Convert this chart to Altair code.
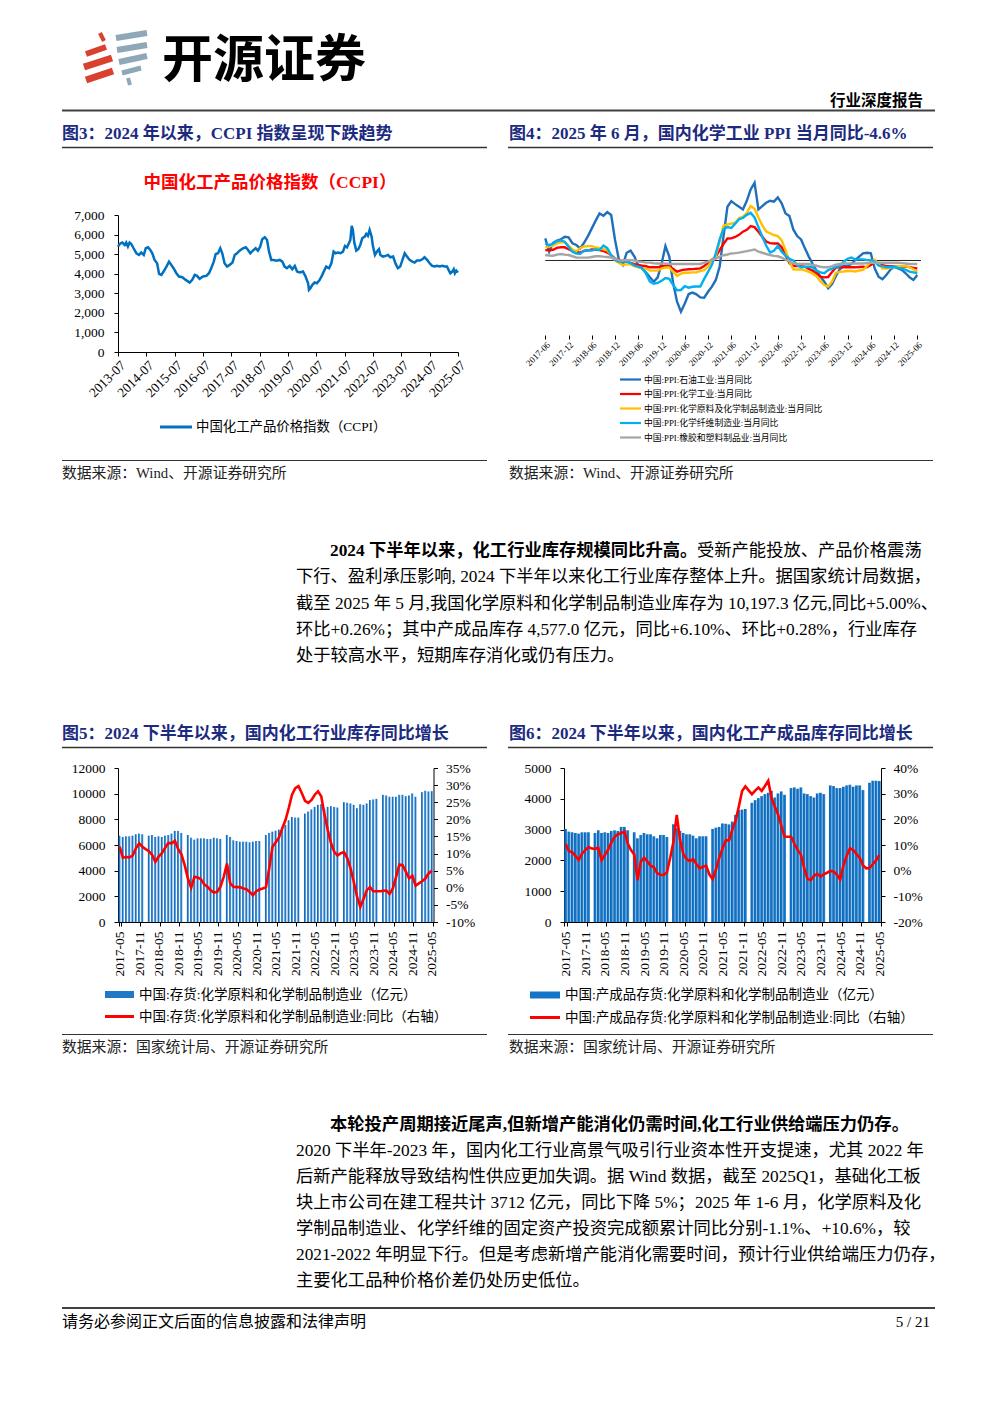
import altair as alt
import pandas as pd

W, H, M = 976, 1387, 8
SERIF = "Liberation Serif"
CJK = "Noto Sans CJK SC"
MIX = "'Liberation Serif', 'Noto Sans CJK SC'"
NAVY = "#1C2B7F"

# ---------------- data ----------------
ccpi_year = [2013.50, 2013.56, 2013.65, 2013.74, 2013.79, 2013.85, 2013.91, 2013.97, 2014.05, 2014.15,
             2014.24, 2014.32, 2014.41, 2014.48, 2014.56, 2014.64, 2014.71, 2014.79, 2014.88, 2014.95,
             2015.03, 2015.11, 2015.21, 2015.30, 2015.38, 2015.46, 2015.56, 2015.65, 2015.77, 2015.89,
             2016.03, 2016.12, 2016.21, 2016.29, 2016.38, 2016.50, 2016.62, 2016.71, 2016.79, 2016.88,
             2016.95, 2017.03, 2017.11, 2017.18, 2017.26, 2017.35, 2017.44, 2017.54, 2017.62, 2017.70,
             2017.79, 2017.91, 2018.01, 2018.09, 2018.17, 2018.26, 2018.36, 2018.44, 2018.52, 2018.59,
             2018.68, 2018.76, 2018.83, 2018.91, 2018.99, 2019.09, 2019.21, 2019.30, 2019.38, 2019.46,
             2019.56, 2019.65, 2019.74, 2019.82, 2019.91, 2020.03, 2020.12, 2020.21, 2020.24, 2020.29,
             2020.36, 2020.44, 2020.52, 2020.62, 2020.71, 2020.79, 2020.85, 2020.95, 2021.03, 2021.11,
             2021.18, 2021.26, 2021.35, 2021.44, 2021.51, 2021.58, 2021.65, 2021.70, 2021.75, 2021.79,
             2021.84, 2021.91, 2021.98, 2022.05, 2022.12, 2022.21, 2022.26, 2022.32, 2022.38, 2022.45,
             2022.50, 2022.57, 2022.64, 2022.71, 2022.76, 2022.85, 2022.95, 2023.03, 2023.11, 2023.21,
             2023.30, 2023.38, 2023.46, 2023.54, 2023.62, 2023.70, 2023.79, 2023.89, 2023.97, 2024.05,
             2024.15, 2024.24, 2024.32, 2024.41, 2024.50, 2024.59, 2024.68, 2024.76, 2024.85, 2024.95,
             2025.03, 2025.11, 2025.18, 2025.23, 2025.30, 2025.35, 2025.39, 2025.44, 2025.50]
ccpi_value = [5385, 5520, 5590, 5470, 5590, 5385, 5590, 5520, 5300, 5045,
              4960, 5080, 4960, 5300, 5350, 5215, 5045, 4705, 4535, 3990,
              3940, 4110, 4365, 4620, 4450, 4280, 4025, 3855, 3820, 3685,
              3550, 3685, 3940, 3890, 3740, 3855, 3890, 4025, 4280, 4620,
              5010, 5045, 5300, 5045, 4535, 4365, 4450, 4570, 4960, 5045,
              5180, 5300, 5350, 5215, 5045, 5180, 5300, 5180, 5385, 5760,
              5860, 5725, 5130, 4705, 4705, 4670, 4705, 4620, 4365, 4280,
              4400, 4230, 4400, 4110, 4060, 4110, 3855, 3515, 3175, 3260,
              3430, 3550, 3515, 3685, 3940, 4195, 4365, 4280, 4535, 5130,
              5045, 5080, 5045, 5130, 5420, 5350, 5555, 5725, 6440, 6235,
              5590, 5180, 5250, 5470, 5810, 5895, 6030, 5930, 6235, 5895,
              5385, 4960, 5130, 5250, 4960, 4875, 4910, 4960, 4840, 4875,
              4500, 4280, 4365, 4705, 5045, 4875, 4705, 4620, 4570, 4670,
              4670, 4740, 4840, 4705, 4535, 4400, 4365, 4400, 4365, 4400,
              4365, 4365, 4160, 4025, 4110, 4230, 4025, 4160, 4060]
ccpi_ticks = [2013.5 + k for k in range(13)]

months4 = pd.date_range("2017-06-01", periods=97, freq="MS").strftime("%Y-%m").tolist()
ppi_names = ["中国:PPI:石油工业:当月同比", "中国:PPI:化学工业:当月同比",
             "中国:PPI:化学原料及化学制品制造业:当月同比", "中国:PPI:化学纤维制造业:当月同比",
             "中国:PPI:橡胶和塑料制品业:当月同比"]
ppi_colors = ["#1F6FBA", "#FF0000", "#FFC000", "#00B0F0", "#A5A5A5"]
ppi_petro = [12.6, 5.0, 10.1, 11.3, 12.0, 13.5, 13.2, 9.8, 8.8, 6.9, 10.1, 13.9, 18.3, 22.7, 26.8, 25.5,
             27.6, 25.9, 11.7, 0.3, -2.6, 4.4, 5.6, 2.2, -3.1, -4.6, -6.9, -9.6, -12.1, -9.6, -2.0, 8.2,
             2.2, -13.0, -23.5, -29.2, -24.5, -19.1, -18.3, -19.3, -21.0, -21.2, -17.8, -14.9, -11.1,
             -3.5, 13.9, 30.6, 33.8, 32.1, 30.6, 29.1, 34.0, 40.5, 44.3, 29.1, 31.0, 32.9, 34.0, 33.5,
             35.9, 32.5, 26.8, 25.3, 17.7, 13.9, 12.0, 6.9, 2.2, -2.0, -5.8, -9.2, -12.1, -15.8, -13.4,
             -8.8, -5.0, -3.1, -3.1, -2.0, 0.3, 2.2, 4.1, 4.4, 4.1, -4.5, -9.2, -10.7, -8.3, -5.4, -3.5,
             -4.5, -5.4, -7.3, -9.6, -11.1, -8.3]
ppi_chem = [5.9, 5.8, 6.1, 7.2, 7.5, 7.5, 6.4, 5.4, 5.0, 4.5, 5.4, 5.8, 6.3, 6.1, 5.9, 5.4, 4.5, 3.0,
            1.0, 0.3, -0.6, -0.6, -1.4, -2.1, -2.6, -3.0, -3.3, -3.9, -3.9, -3.9, -3.3, -3.1, -3.2,
            -4.8, -6.4, -5.6, -5.2, -5.0, -4.9, -4.7, -4.5, -3.2, -1.3, 0.5, 2.2, 5.9, 9.5, 12.5, 12.6,
            13.4, 14.6, 16.4, 17.5, 19.6, 19.0, 16.3, 13.5, 10.8, 9.9, 9.7, 9.7, 7.5, 3.0, -1.5, -3.0,
            -3.2, -3.2, -3.6, -4.8, -5.8, -7.3, -9.2, -9.6, -9.4, -6.5, -4.0, -3.9, -3.9, -3.9, -3.9,
            -3.9, -3.7, -3.5, -3.9, -2.6, -1.0, -1.8, -2.6, -3.2, -3.2, -3.2, -3.2, -3.4, -3.5, -3.8,
            -4.2, -4.6]
ppi_raw = [7.5, 8.0, 8.5, 9.8, 10.3, 10.5, 8.5, 6.2, 5.2, 7.0, 8.0, 8.2, 8.2, 7.5, 7.0, 6.4, 5.7, 3.0,
           0.0, -1.4, -2.6, -2.2, -2.2, -3.2, -3.9, -4.4, -4.6, -5.8, -5.8, -5.8, -4.6, -4.0, -4.0,
           -6.5, -8.8, -7.5, -7.0, -7.0, -6.8, -6.7, -6.1, -5.5, -3.5, -0.3, 2.5, 11.0, 19.8, 20.5,
           21.0, 21.5, 24.0, 25.0, 27.0, 31.0, 29.5, 24.5, 20.0, 16.5, 15.5, 14.5, 13.9, 11.5, 6.0,
           -0.5, -5.0, -5.2, -5.0, -5.6, -6.5, -7.5, -9.0, -11.8, -14.0, -14.9, -12.0, -7.0, -6.5,
           -6.3, -6.0, -5.9, -6.3, -5.7, -5.3, -3.2, -0.5, 0.3, -2.0, -4.6, -4.6, -4.2, -3.5, -3.2,
           -3.2, -3.2, -3.9, -5.0, -6.4]
ppi_fiber = [9.7, 8.7, 9.6, 11.0, 11.4, 10.7, 7.8, 5.0, 4.0, 3.8, 5.6, 5.8, 5.6, 6.3, 6.0, 8.5, 7.0,
             3.0, 0.3, -0.6, -0.6, -0.6, -1.5, -3.0, -3.5, -4.4, -7.5, -12.0, -13.2, -12.8, -11.5,
             -10.0, -10.5, -14.0, -17.0, -16.8, -14.6, -15.5, -15.0, -14.8, -14.8, -10.5, -6.5, -2.5,
             4.0, 12.0, 17.8, 19.0, 18.5, 21.0, 23.5, 24.2, 26.0, 27.2, 24.5, 19.0, 13.5, 8.5, 4.6,
             5.5, 8.2, 5.0, 2.7, 1.0, 0.0, -2.6, -3.9, -3.6, -3.6, -3.9, -5.8, -6.8, -7.3, -5.5, -4.6,
             -3.6, -3.2, -0.7, 1.0, 1.7, 0.5, 0.6, 0.6, 0.3, 0.2, -0.6, -2.9, -3.2, -3.9, -3.7, -3.6,
             -4.2, -4.5, -5.4, -6.4, -6.8, -7.3]
ppi_rubber = [3.1, 2.8, 2.7, 3.3, 3.7, 3.3, 3.1, 2.4, 1.7, 1.6, 1.6, 1.6, 2.0, 2.4, 2.5, 2.2, 2.0, 1.6,
              1.0, 0.2, 0.0, 0.3, 0.2, 0.0, -0.6, -0.8, -1.2, -1.2, -1.6, -1.7, -1.7, -1.8, -2.0, -2.0,
              -2.0, -2.0, -2.0, -2.0, -2.0, -2.0, -2.0, -1.3, -0.6, 0.2, 1.0, 2.2, 3.0, 3.4, 4.0, 4.2,
              4.5, 4.9, 5.3, 5.8, 6.3, 5.0, 4.4, 3.7, 3.1, 2.6, 2.4, 1.6, 0.4, -0.6, -1.6, -2.0, -2.0,
              -2.0, -2.0, -2.6, -3.0, -3.6, -3.9, -3.9, -3.2, -2.4, -2.0, -1.7, -1.7, -1.7, -1.7, -1.7,
              -1.7, -1.5, -1.3, -1.3, -1.3, -1.3, -1.3, -1.3, -1.3, -1.3, -1.5, -1.7, -2.0, -2.0, -2.0]

months5 = pd.date_range("2017-05-01", periods=97, freq="MS").strftime("%Y-%m").tolist()
N = None
inv5 = [6730, 6630, 6680, 6680, 6730, 6840, 6890, 6840, N,
        6730, 6780, 6630, 6680, 6630, 6730, 6780, 6890, 7100, 7100, 6940, N,
        6780, 6570, 6420, 6520, 6520, 6520, 6470, 6470, 6570, 6520, 6470, N,
        6780, 6630, 6370, 6310, 6260, 6260, 6260, 6210, 6260, 6310, 6310, N,
        6780, 6940, 7040, 7120, 7200, 7300, 7570, 7930, 8190, 8140, 8140, N,
        8450, 8610, 8770, 8970, 9130, 9180, 8820, 8970, 9030, 8970, 8920, N,
        9340, 9290, 9240, 9130, 8870, 9180, 9130, 9240, 9500, 9550, 9600, N,
        9910, 9860, 9760, 9760, 9760, 9910, 9910, 9810, 9860, 10020, 9760, N,
        10120, 10230, 10170, 10197]
yoy5 = [12.0, 8.8, 9.0, 8.9, 9.4, 11.5, 13.0, 12.0, 11.3, 10.7, 9.6, 7.6, 9.1, 10.1, 11.7, 13.1, 13.0,
        13.7, 11.3, 9.8, 6.6, 2.7, 0.0, 3.2, 3.0, 2.5, 1.0, 0.3, -0.7, -1.4, -1.2, 0.3, 3.2, 7.1, 1.3,
        0.3, 0.2, 0.2, -0.2, -0.4, -1.2, -2.2, -1.0, -0.5, -0.2, 0.2, 5.7, 12.0, 13.3, 14.7, 17.4,
        19.8, 23.3, 27.2, 29.1, 29.7, 27.7, 25.4, 24.8, 25.7, 27.2, 28.2, 26.7, 21.3, 16.9, 13.0,
        10.5, 9.4, 10.1, 10.4, 8.6, 5.7, 1.7, -2.7, -5.6, -3.2, -0.7, 0.2, -1.0, -1.0, -1.0, -0.9,
        -0.8, -1.8, -0.2, 3.2, 6.8, 6.6, 4.7, 2.7, 3.5, 0.6, 1.3, 1.9, 2.7, 4.2, 5.0]
inv6 = [3022, 2935, 2913, 2891, 2870, 2913, 2913, 2913, N,
        2891, 2978, 2891, 2913, 2891, 2957, 2978, 2957, 3087, 3087, 2978, N,
        2913, 2717, 2826, 2891, 2848, 2848, 2783, 2717, 2826, 2826, 2761, N,
        3174, 3043, 2957, 2891, 2848, 2848, 2804, 2717, 2783, 2783, 2783, N,
        3022, 3065, 3087, 3200, 3190, 3170, 3260, 3478, 3640, 3650, 3670, N,
        3870, 3957, 4022, 4087, 4152, 4196, 4261, 4043, 4174, 4239, 4130, N,
        4348, 4370, 4326, 4370, 4174, 4152, 4087, 4043, 4174, 4196, 4152, N,
        4435, 4413, 4348, 4348, 4391, 4435, 4457, 4391, 4435, 4435, 4283, N,
        4522, 4587, 4587, 4577]
yoy6 = [10.5, 7.6, 7.2, 5.8, 4.1, 6.6, 8.0, 9.2, 8.6, 8.5, 8.9, 4.1, 6.1, 8.2, 11.0, 13.2, 14.2, 14.6,
        15.2, 10.6, 8.0, 6.3, -3.7, 3.5, 5.0, 3.6, 1.9, 1.3, -1.0, -1.6, -1.7, -0.6, 5.0, 11.3, 21.7,
        12.0, 6.5, 4.5, 3.7, 4.5, 2.6, 0.9, 1.5, 1.9, -1.5, -3.3, 0.5, 5.0, 8.6, 11.8, 11.8, 16.0,
        19.5, 25.0, 31.0, 32.8, 31.3, 29.8, 31.2, 32.4, 31.1, 33.0, 35.0, 28.2, 25.0, 21.9, 17.5,
        13.3, 13.2, 13.2, 10.5, 8.0, 6.3, 1.0, -3.2, -3.7, -2.0, -1.2, -2.3, -1.4, -0.8, -0.1, -0.3,
        -1.5, -3.5, 2.0, 5.8, 8.7, 8.0, 6.5, 5.0, 2.0, 0.9, 1.0, 2.5, 4.0, 6.1]

para1 = ["下行、盈利承压影响, 2024 下半年以来化工行业库存整体上升。据国家统计局数据，",
         "截至 2025 年 5 月,我国化学原料和化学制品制造业库存为 10,197.3 亿元,同比+5.00%、",
         "环比+0.26%；其中产成品库存 4,577.0 亿元，同比+6.10%、环比+0.28%，行业库存",
         "处于较高水平，短期库存消化或仍有压力。"]
para2 = ["2020 下半年-2023 年，国内化工行业高景气吸引行业资本性开支提速，尤其 2022 年",
         "后新产能释放导致结构性供应更加失调。据 Wind 数据，截至 2025Q1，基础化工板",
         "块上市公司在建工程共计 3712 亿元，同比下降 5%；2025 年 1-6 月，化学原料及化",
         "学制品制造业、化学纤维的固定资产投资完成额累计同比分别-1.1%、+10.6%，较",
         "2021-2022 年明显下行。但是考虑新增产能消化需要时间，预计行业供给端压力仍存，",
         "主要化工品种价格价差仍处历史低位。"]

PS = 17.3  # paragraph font size
TS = 17.0  # figure title font size


# ---------------- helpers ----------------
def T(s, x, y, size=14, color="#000", bold=False, align="left", font=MIX):
    return alt.Chart(pd.DataFrame({"t": [s]})).mark_text(
        align=align, baseline="middle", fontSize=size, color=color,
        fontWeight="bold" if bold else "normal", font=font
    ).encode(x=alt.value(x - M), y=alt.value(y - M), text="t:N")


def R(x1, x2, y, color="#333333", w=1.5):
    return alt.Chart(pd.DataFrame({"t": [0]})).mark_rule(color=color, strokeWidth=w).encode(
        x=alt.value(x1 - M), x2=alt.value(x2 - M), y=alt.value(y - M))


def S(x1, y1, x2, y2, color, w):
    return alt.Chart(pd.DataFrame({"t": [0]})).mark_rule(color=color, strokeWidth=w, strokeCap="butt").encode(
        x=alt.value(x1 - M), y=alt.value(y1 - M), x2=alt.value(x2 - M), y2=alt.value(y2 - M))


def BOX(x1, x2, y1, y2, color):
    return alt.Chart(pd.DataFrame({"t": [0]})).mark_rect(color=color).encode(
        x=alt.value(x1 - M), x2=alt.value(x2 - M), y=alt.value(y1 - M), y2=alt.value(y2 - M))


def ax(orient, pos, **kw):
    if orient == "left":
        off = -(pos - M)
    elif orient == "right":
        off = (pos - M) - W
    else:
        off = (pos - M) - H
    base = dict(orient=orient, offset=off, grid=False, title=None, domainColor="#000",
                tickColor="#000", labelColor="#000", labelFont=SERIF, labelOverlap=False)
    base.update(kw)
    return alt.Axis(**base)


layers = []

# ---------------- header ----------------
layers += [
    S(100, 33, 104, 41, "#D9412E", 4),
    S(86, 54, 106, 47, "#D9412E", 6),
    S(84, 67, 112, 58, "#D9412E", 7),
    S(86, 80, 113, 71, "#D9412E", 7),
    S(116, 38, 147, 33, "#8FA8B8", 6),
    S(117, 50, 147, 45, "#8FA8B8", 6),
    S(119, 62, 147, 56, "#8FA8B8", 6),
    S(122, 73, 141, 68, "#8FA8B8", 5),
    S(128, 78, 130, 85, "#8FA8B8", 4),
    T("开源证券", 162, 62, size=51, bold=True, font=CJK),
    T("行业深度报告", 923, 101, size=15.5, bold=True, align="right", font=CJK),
    R(62, 935, 110.5, "#404040", 2),
]

# ---------------- figure titles & frames ----------------
layers += [
    T("图3：2024 年以来，CCPI 指数呈现下跌趋势", 62, 134, size=TS, color=NAVY, bold=True),
    T("图4：2025 年 6 月，国内化学工业 PPI 当月同比-4.6%", 509, 134, size=TS, color=NAVY, bold=True),
    R(62, 487, 147.5), R(508, 933, 147.5),
    R(62, 487, 460.5, "#333333", 1.2), R(508, 933, 460.5, "#333333", 1.2),
    T("数据来源：Wind、开源证券研究所", 62, 473.5, size=14.8, color="#222222"),
    T("数据来源：Wind、开源证券研究所", 509, 473.5, size=14.8, color="#222222"),
    T("图5：2024 下半年以来，国内化工行业库存同比增长", 62, 734, size=TS, color=NAVY, bold=True),
    T("图6：2024 下半年以来，国内化工产成品库存同比增长", 509, 734, size=TS, color=NAVY, bold=True),
    R(62, 487, 747.5), R(508, 933, 747.5),
    R(62, 487, 1034.5, "#333333", 1.2), R(508, 933, 1034.5, "#333333", 1.2),
    T("数据来源：国家统计局、开源证券研究所", 62, 1047.5, size=14.8, color="#222222"),
    T("数据来源：国家统计局、开源证券研究所", 509, 1047.5, size=14.8, color="#222222"),
]

# ---------------- Fig 3: CCPI ----------------
df3 = pd.DataFrame({"yr": ccpi_year, "ccpi": ccpi_value})
fig3 = alt.Chart(df3).mark_line(color="#0070C0", strokeWidth=2.5).encode(
    x=alt.X("yr:Q", scale=alt.Scale(domain=[2013.5, 2025.5], range=[118 - M, 458 - M], nice=False, zero=False),
            axis=ax("bottom", 352, values=ccpi_ticks, labelExpr="floor(datum.value) + '-07'",
                    labelAngle=315, labelAlign="right", labelBaseline="top", tickSize=4,
                    labelPadding=2, labelFontSize=13.5)),
    y=alt.Y("ccpi:Q", scale=alt.Scale(domain=[0, 7000], range=[352 - M, 215 - M], nice=False),
            axis=ax("left", 118, values=list(range(0, 7001, 1000)), format=",.0f", tickSize=4,
                    labelPadding=10, labelFontSize=13.5)),
)
layers += [
    T("中国化工产品价格指数（CCPI）", 270, 183, size=17.5, color="#FF0000", bold=True, align="center"),
    fig3,
    R(160, 192, 427, "#0070C0", 3),
    T("中国化工产品价格指数（CCPI）", 196, 427, size=13.4),
]

# ---------------- Fig 4: PPI ----------------
df4 = pd.concat([pd.DataFrame({"m": months4, "v": vals, "s": name})
                 for name, vals in zip(ppi_names, [ppi_petro, ppi_chem, ppi_raw, ppi_fiber, ppi_rubber])])
y4scale = alt.Scale(domain=[-40, 50], range=[330.7 - M, 172.7 - M], nice=False)
zero4 = alt.Chart(pd.DataFrame({"t": [0]})).mark_rule(color="#222222", strokeWidth=1).encode(
    x=alt.value(545.3 - M), x2=alt.value(921 - M),
    y=alt.YDatum(0, type="quantitative", scale=y4scale, axis=None))
lines4 = alt.Chart(df4).mark_line(strokeWidth=2.4).encode(
    x=alt.X("m:O", scale=alt.Scale(type="point", range=[545.3 - M, 917.3 - M], padding=0),
            axis=ax("bottom", 335, values=months4[::6], labelAngle=315, labelAlign="right",
                    labelBaseline="top", domain=False, tickSize=4, labelPadding=1, labelFontSize=9)),
    y=alt.Y("v:Q", scale=y4scale,
            axis=ax("left", 545.3, values=list(range(-40, 51, 10)), labelExpr="datum.value + '%'",
                    tickSize=3, labelPadding=4, labelFontSize=10)),
    color=alt.Color("s:N", scale=alt.Scale(domain=ppi_names, range=ppi_colors), legend=None),
)
fig4 = alt.layer(zero4, lines4)
layers.append(fig4)
for k, (name, col) in enumerate(zip(ppi_names, ppi_colors)):
    yy = 379.5 + k * 14.5
    layers += [R(620, 641, yy, col, 2.2), T(name, 644, yy, size=8.8)]

# ---------------- Paragraph 1 ----------------
layers += [
    T("2024 下半年以来，化工行业库存规模同比升高。", 330, 551, size=PS, bold=True),
    T("受新产能投放、产品价格震荡", 697, 551, size=PS),
]
for k, line in enumerate(para1):
    layers.append(T(line, 296, 577.3 + k * 26.3, size=PS))

# ---------------- Fig 5 ----------------
df5 = pd.DataFrame({"m": months5, "inv": inv5, "yoy": yoy5})
x5 = alt.X("m:O", scale=alt.Scale(type="band", range=[118 - M, 433.5 - M], paddingInner=0.35, paddingOuter=0.175),
           axis=ax("bottom", 922, values=months5[::6], labelAngle=270, labelAlign="right",
                   labelBaseline="middle", tickBand="extent", tickSize=4, labelPadding=5, labelFontSize=13.5))
grad5 = alt.Gradient(gradient="linear", x1=0, x2=1, y1=0, y2=0,
                     stops=[alt.GradientStop(color="#0E5DAE", offset=0),
                            alt.GradientStop(color="#1F78C8", offset=0.5),
                            alt.GradientStop(color="#8EC3EE", offset=1)])
bars5 = alt.Chart(df5).mark_bar(color=grad5).encode(
    x=x5,
    y=alt.Y("inv:Q", scale=alt.Scale(domain=[0, 12000], range=[922 - M, 768 - M], nice=False),
            axis=ax("left", 118, values=list(range(0, 12001, 2000)), format="d", tickSize=4,
                    labelPadding=9, labelFontSize=13.5)))
line5 = alt.Chart(df5).mark_line(color="#FF0000", strokeWidth=2.6).encode(
    x=x5,
    y=alt.Y("yoy:Q", scale=alt.Scale(domain=[-10, 35], range=[922 - M, 768 - M], nice=False),
            axis=ax("right", 433.5, values=list(range(-10, 36, 5)), labelExpr="datum.value + '%'",
                    tickSize=4, labelPadding=8, labelFontSize=13.5)))
layers.append(alt.layer(bars5, line5).resolve_scale(y="independent"))
layers += [
    BOX(105, 134, 991, 998, "#1F78C8"),
    T("中国:存货:化学原料和化学制品制造业（亿元）", 139, 994.5, size=13.5),
    R(105, 134, 1016.5, "#FF0000", 3),
    T("中国:存货:化学原料和化学制品制造业:同比（右轴）", 139, 1016.5, size=13.5),
]

# ---------------- Fig 6 ----------------
df6 = pd.DataFrame({"m": months5, "inv": inv6, "yoy": yoy6})
x6 = alt.X("m:O", scale=alt.Scale(type="band", range=[564 - M, 881 - M], paddingInner=0.14, paddingOuter=0.07),
           axis=ax("bottom", 922, values=months5[::6], labelAngle=270, labelAlign="right",
                   labelBaseline="middle", tickBand="extent", tickSize=4, labelPadding=5, labelFontSize=13.5))
grad6 = alt.Gradient(gradient="linear", x1=0, x2=1, y1=0, y2=0,
                     stops=[alt.GradientStop(color="#0A64B4", offset=0),
                            alt.GradientStop(color="#1474C6", offset=0.6),
                            alt.GradientStop(color="#3F93D8", offset=1)])
bars6 = alt.Chart(df6).mark_bar(color=grad6).encode(
    x=x6,
    y=alt.Y("inv:Q", scale=alt.Scale(domain=[0, 5000], range=[922 - M, 768 - M], nice=False),
            axis=ax("left", 564, values=list(range(0, 5001, 1000)), format="d", tickSize=4,
                    labelPadding=9, labelFontSize=13.5)))
line6 = alt.Chart(df6).mark_line(color="#FF0000", strokeWidth=2.6).encode(
    x=x6,
    y=alt.Y("yoy:Q", scale=alt.Scale(domain=[-20, 40], range=[922 - M, 768 - M], nice=False),
            axis=ax("right", 881, values=list(range(-20, 41, 10)), labelExpr="datum.value + '%'",
                    tickSize=4, labelPadding=8, labelFontSize=13.5)))
layers.append(alt.layer(bars6, line6).resolve_scale(y="independent"))
layers += [
    BOX(530, 560, 991.5, 998.5, "#1474C6"),
    T("中国:产成品存货:化学原料和化学制品制造业（亿元）", 565, 995, size=13.5),
    R(530, 560, 1017.5, "#FF0000", 3),
    T("中国:产成品存货:化学原料和化学制品制造业:同比（右轴）", 565, 1017.5, size=13.5),
]

# ---------------- Paragraph 2 ----------------
layers.append(T("本轮投产周期接近尾声,但新增产能消化仍需时间,化工行业供给端压力仍存。", 330, 1125, size=PS, bold=True))
for k, line in enumerate(para2):
    layers.append(T(line, 296, 1151 + k * 26, size=PS))

# ---------------- footer ----------------
layers += [
    R(62, 935, 1308, "#404040", 2),
    T("请务必参阅正文后面的信息披露和法律声明", 62, 1321.5, size=16),
    T("5 / 21", 930, 1321.5, size=15, align="right"),
]

chart = alt.layer(*layers).resolve_scale(
    x="independent", y="independent", color="independent"
).properties(
    width=W, height=H, autosize=alt.AutoSizeParams(type="none"), padding=0, background="white"
).configure_view(stroke=None)

chart.save("out.html", embed_options={"renderer": "svg", "actions": False})
